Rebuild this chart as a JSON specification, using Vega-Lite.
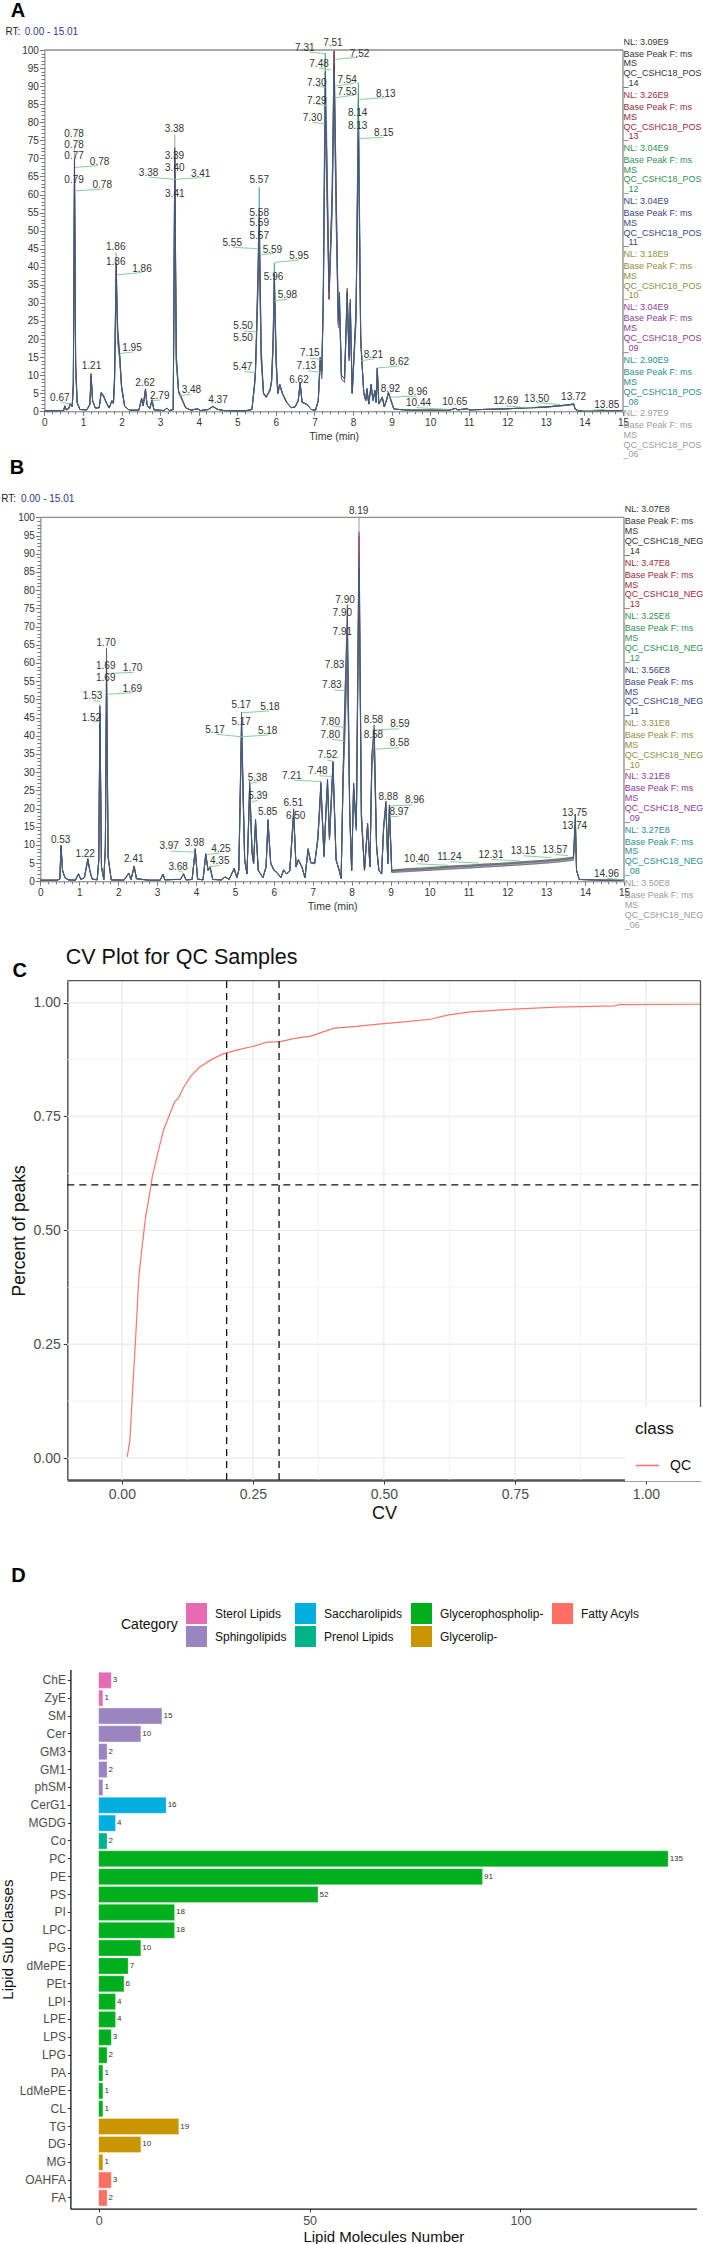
{
"$schema":"https://vega.github.io/schema/vega-lite/v6.json",
"width":703,"height":2244,"padding":0,"autosize":"none","background":"white",
"config":{"font":"Liberation Sans","view":{"stroke":null}},
"datasets":{
"traceA":[
{"t":0,"14":0.1,"13":0.1,"12":0.1,"11":0.1,"10":0.1,"09":0.1,"08":0.1,"06":0.1},
{"t":0.5,"14":0.2,"13":0.2,"12":0.2,"11":0.2,"10":0.2,"09":0.2,"08":0.2,"06":0.2},
{"t":0.53,"14":1.5,"13":1.3,"12":1.4,"11":1.6,"10":1.2,"09":1.5,"08":1.3,"06":1.4},
{"t":0.57,"14":0.4,"13":0.4,"12":0.4,"11":0.4,"10":0.4,"09":0.4,"08":0.4,"06":0.4},
{"t":0.63,"14":0.8,"13":0.7,"12":0.7,"11":0.8,"10":0.7,"09":0.8,"08":0.7,"06":0.8},
{"t":0.67,"14":2.2,"13":2,"12":1.9,"11":2.1,"10":2,"09":2,"08":1.9,"06":2.2},
{"t":0.72,"14":1.3,"13":1.3,"12":1.2,"11":1.3,"10":1.3,"09":1.2,"08":1.2,"06":1.3},
{"t":0.75,"14":8,"13":7,"12":6,"11":8,"10":7,"09":7,"08":6,"06":9},
{"t":0.78,"14":70,"13":67.5,"12":61,"11":69,"10":64,"09":66,"08":61,"06":73.5},
{"t":0.81,"14":14,"13":12,"12":11,"11":13,"10":12,"09":12,"08":11,"06":15},
{"t":0.85,"14":2.5,"13":2.4,"12":2.3,"11":2.5,"10":2.4,"09":2.4,"08":2.3,"06":2.6},
{"t":0.92,"14":0.5,"13":0.5,"12":0.5,"11":0.5,"10":0.5,"09":0.5,"08":0.5,"06":0.5},
{"t":1.1,"14":0.4,"13":0.4,"12":0.4,"11":0.4,"10":0.4,"09":0.4,"08":0.4,"06":0.4},
{"t":1.18,"14":2,"13":2,"12":1.8,"11":2,"10":1.9,"09":1.9,"08":1.8,"06":2},
{"t":1.21,"14":10.5,"13":10,"12":9.5,"11":10,"10":10.2,"09":9.8,"08":9.6,"06":10.4},
{"t":1.25,"14":3,"13":3,"12":2.8,"11":3,"10":2.9,"09":2.9,"08":2.8,"06":3},
{"t":1.32,"14":0.9,"13":0.9,"12":0.9,"11":0.9,"10":0.9,"09":0.9,"08":0.9,"06":0.9},
{"t":1.42,"14":1,"13":1,"12":1,"11":1,"10":1,"09":1,"08":1,"06":1},
{"t":1.47,"14":5.3,"13":5,"12":4.8,"11":5.2,"10":5,"09":4.9,"08":4.7,"06":5.1},
{"t":1.53,"14":4.4,"13":4.3,"12":4.1,"11":4.5,"10":4.3,"09":4.2,"08":4.1,"06":4.4},
{"t":1.6,"14":2.6,"13":2.5,"12":2.4,"11":2.6,"10":2.5,"09":2.5,"08":2.4,"06":2.6},
{"t":1.68,"14":0.9,"13":0.9,"12":0.9,"11":0.9,"10":0.9,"09":0.9,"08":0.9,"06":0.9},
{"t":1.75,"14":3,"13":2.9,"12":2.8,"11":3,"10":2.9,"09":2.9,"08":2.8,"06":3},
{"t":1.79,"14":2.2,"13":2.2,"12":2.1,"11":2.2,"10":2.2,"09":2.2,"08":2.1,"06":2.2},
{"t":1.82,"14":10,"13":9,"12":8,"11":10,"10":9,"09":9,"08":8,"06":11},
{"t":1.86,"14":40.5,"13":39,"12":36,"11":41,"10":38,"09":37,"08":36,"06":44},
{"t":1.9,"14":23,"13":21,"12":19,"11":22,"10":20,"09":20,"08":19,"06":24},
{"t":1.95,"14":16,"13":15.5,"12":14.5,"11":16,"10":15,"09":15,"08":14.5,"06":16.5},
{"t":2,"14":7,"13":6.8,"12":6.4,"11":7,"10":6.6,"09":6.6,"08":6.4,"06":7.2},
{"t":2.08,"14":1.5,"13":1.5,"12":1.4,"11":1.5,"10":1.5,"09":1.4,"08":1.4,"06":1.5},
{"t":2.2,"14":0.3,"13":0.3,"12":0.3,"11":0.3,"10":0.3,"09":0.3,"08":0.3,"06":0.3},
{"t":2.45,"14":0.3,"13":0.3,"12":0.3,"11":0.3,"10":0.3,"09":0.3,"08":0.3,"06":0.3},
{"t":2.52,"14":3.6,"13":3.5,"12":3.3,"11":3.6,"10":3.4,"09":3.4,"08":3.3,"06":3.7},
{"t":2.56,"14":1.5,"13":1.5,"12":1.5,"11":1.5,"10":1.5,"09":1.5,"08":1.5,"06":1.5},
{"t":2.59,"14":3.8,"13":3.7,"12":3.5,"11":3.8,"10":3.6,"09":3.6,"08":3.5,"06":3.9},
{"t":2.62,"14":6.2,"13":6,"12":5.6,"11":6.1,"10":5.8,"09":5.9,"08":5.6,"06":6.3},
{"t":2.66,"14":1.8,"13":1.8,"12":1.7,"11":1.8,"10":1.8,"09":1.8,"08":1.7,"06":1.8},
{"t":2.73,"14":0.7,"13":0.7,"12":0.7,"11":0.7,"10":0.7,"09":0.7,"08":0.7,"06":0.7},
{"t":2.79,"14":3.2,"13":3.1,"12":3,"11":3.2,"10":3.1,"09":3,"08":3,"06":3.2},
{"t":2.84,"14":0.4,"13":0.4,"12":0.4,"11":0.4,"10":0.4,"09":0.4,"08":0.4,"06":0.4},
{"t":3.1,"14":0.2,"13":0.2,"12":0.2,"11":0.2,"10":0.2,"09":0.2,"08":0.2,"06":0.2},
{"t":3.18,"14":0.9,"13":0.9,"12":0.9,"11":0.9,"10":0.9,"09":0.9,"08":0.9,"06":0.9},
{"t":3.24,"14":0.2,"13":0.2,"12":0.2,"11":0.2,"10":0.2,"09":0.2,"08":0.2,"06":0.2},
{"t":3.34,"14":0.5,"13":0.5,"12":0.5,"11":0.5,"10":0.5,"09":0.5,"08":0.5,"06":0.5},
{"t":3.38,"14":73,"13":70,"12":64,"11":72,"10":67,"09":66,"08":60,"06":76.5},
{"t":3.42,"14":15,"13":14,"12":13,"11":15,"10":14,"09":14,"08":13,"06":16},
{"t":3.48,"14":5.6,"13":5.4,"12":5.1,"11":5.6,"10":5.3,"09":5.2,"08":5.1,"06":5.8},
{"t":3.56,"14":3.6,"13":3.5,"12":3.3,"11":3.6,"10":3.4,"09":3.4,"08":3.3,"06":3.7},
{"t":3.66,"14":1,"13":1,"12":1,"11":1,"10":1,"09":1,"08":1,"06":1},
{"t":3.8,"14":0.3,"13":0.3,"12":0.3,"11":0.3,"10":0.3,"09":0.3,"08":0.3,"06":0.3},
{"t":3.97,"14":0.7,"13":0.7,"12":0.7,"11":0.7,"10":0.7,"09":0.7,"08":0.7,"06":0.7},
{"t":4.05,"14":0.2,"13":0.2,"12":0.2,"11":0.2,"10":0.2,"09":0.2,"08":0.2,"06":0.2},
{"t":4.25,"14":0.5,"13":0.5,"12":0.5,"11":0.5,"10":0.5,"09":0.5,"08":0.5,"06":0.5},
{"t":4.37,"14":1.4,"13":1.4,"12":1.3,"11":1.4,"10":1.3,"09":1.3,"08":1.3,"06":1.4},
{"t":4.47,"14":0.6,"13":0.6,"12":0.6,"11":0.6,"10":0.6,"09":0.6,"08":0.6,"06":0.6},
{"t":4.65,"14":0.2,"13":0.2,"12":0.2,"11":0.2,"10":0.2,"09":0.2,"08":0.2,"06":0.2},
{"t":5.2,"14":0.1,"13":0.1,"12":0.1,"11":0.1,"10":0.1,"09":0.1,"08":0.1,"06":0.1},
{"t":5.38,"14":0.5,"13":0.5,"12":0.5,"11":0.5,"10":0.5,"09":0.5,"08":0.5,"06":0.5},
{"t":5.45,"14":8,"13":7.6,"12":7.2,"11":8,"10":7.5,"09":7.4,"08":7.2,"06":8.2},
{"t":5.47,"14":11,"13":10.6,"12":10,"11":11,"10":10.4,"09":10.2,"08":10,"06":11.4},
{"t":5.5,"14":23,"13":21,"12":20,"11":22,"10":21,"09":20,"08":19,"06":22},
{"t":5.57,"14":52,"13":49,"12":46,"11":55,"10":48,"09":44,"08":62,"06":51},
{"t":5.62,"14":16,"13":15,"12":14,"11":17,"10":15,"09":14,"08":18,"06":16},
{"t":5.68,"14":5,"13":5,"12":4.7,"11":5,"10":4.9,"09":4.8,"08":5.2,"06":5},
{"t":5.75,"14":4,"13":4,"12":3.8,"11":4,"10":3.9,"09":3.8,"08":4.1,"06":4},
{"t":5.85,"14":6,"13":5.9,"12":5.6,"11":6,"10":5.8,"09":5.7,"08":6.1,"06":6},
{"t":5.89,"14":8.5,"13":8.4,"12":8,"11":8.5,"10":8.2,"09":8.1,"08":8.7,"06":8.5},
{"t":5.93,"14":20,"13":19,"12":17,"11":20,"10":18,"09":18,"08":21,"06":19},
{"t":5.96,"14":38,"13":36,"12":31,"11":38,"10":34,"09":33,"08":41,"06":36},
{"t":6.01,"14":14,"13":13,"12":12,"11":14,"10":13,"09":13,"08":15,"06":14},
{"t":6.05,"14":5,"13":5,"12":4.8,"11":5,"10":4.9,"09":4.8,"08":5.1,"06":5},
{"t":6.1,"14":7.5,"13":7.4,"12":7,"11":7.5,"10":7.2,"09":7.2,"08":7.6,"06":7.4},
{"t":6.17,"14":5,"13":5,"12":4.8,"11":5,"10":4.9,"09":4.9,"08":5,"06":5},
{"t":6.28,"14":2.5,"13":2.5,"12":2.4,"11":2.5,"10":2.5,"09":2.4,"08":2.5,"06":2.5},
{"t":6.4,"14":1,"13":1,"12":1,"11":1,"10":1,"09":1,"08":1,"06":1},
{"t":6.5,"14":1.2,"13":1.2,"12":1.2,"11":1.2,"10":1.2,"09":1.2,"08":1.2,"06":1.2},
{"t":6.58,"14":3,"13":3,"12":2.9,"11":3,"10":3,"09":2.9,"08":3,"06":3},
{"t":6.63,"14":8,"13":7.8,"12":7.4,"11":8,"10":7.6,"09":7.6,"08":7.8,"06":8.1},
{"t":6.68,"14":2.5,"13":2.5,"12":2.4,"11":2.5,"10":2.5,"09":2.4,"08":2.5,"06":2.5},
{"t":6.8,"14":2,"13":2,"12":1.9,"11":2,"10":2,"09":1.9,"08":2,"06":2},
{"t":6.92,"14":0.5,"13":0.5,"12":0.5,"11":0.5,"10":0.5,"09":0.5,"08":0.5,"06":0.5},
{"t":7.03,"14":0.3,"13":0.3,"12":0.3,"11":0.3,"10":0.3,"09":0.3,"08":0.3,"06":0.3},
{"t":7.1,"14":3,"13":3,"12":2.8,"11":3,"10":2.9,"09":2.8,"08":3,"06":3},
{"t":7.15,"14":15,"13":14,"12":13,"11":15,"10":14,"09":13,"08":15,"06":14},
{"t":7.19,"14":11,"13":10,"12":9,"11":11,"10":10,"09":9,"08":10,"06":10},
{"t":7.23,"14":30,"13":31,"12":34,"11":32,"10":30,"09":28,"08":33,"06":30},
{"t":7.28,"14":84,"13":90,"12":99,"11":94,"10":86,"09":81,"08":92,"06":88},
{"t":7.33,"14":58,"13":66,"12":70,"11":64,"10":60,"09":55,"08":66,"06":60},
{"t":7.38,"14":31,"13":31,"12":34,"11":33,"10":32,"09":31,"08":35,"06":33},
{"t":7.46,"14":60,"13":62,"12":56,"11":60,"10":56,"09":54,"08":58,"06":60},
{"t":7.51,"14":100,"13":100,"12":92,"11":96,"10":90,"09":88,"08":94,"06":99},
{"t":7.57,"14":56,"13":58,"12":50,"11":54,"10":50,"09":48,"08":52,"06":56},
{"t":7.62,"14":25,"13":26,"12":24,"11":25,"10":24,"09":23,"08":24,"06":25},
{"t":7.65,"14":33,"13":30,"12":28,"11":32,"10":30,"09":29,"08":31,"06":30},
{"t":7.7,"14":10,"13":10,"12":9,"11":10,"10":9,"09":9,"08":10,"06":10},
{"t":7.78,"14":9,"13":9,"12":8,"11":9,"10":8,"09":8,"08":9,"06":9},
{"t":7.85,"14":34,"13":33,"12":30,"11":33,"10":31,"09":30,"08":32,"06":34},
{"t":7.9,"14":15,"13":15,"12":14,"11":15,"10":14,"09":14,"08":15,"06":15},
{"t":7.93,"14":31,"13":30,"12":27,"11":30,"10":28,"09":27,"08":29,"06":31},
{"t":7.98,"14":5,"13":5,"12":5,"11":5,"10":5,"09":5,"08":5,"06":5},
{"t":8.08,"14":28,"13":27,"12":25,"11":28,"10":26,"09":25,"08":27,"06":28},
{"t":8.14,"14":80,"13":84,"12":86,"11":76,"10":88,"09":78,"08":91,"06":82},
{"t":8.2,"14":20,"13":21,"12":20,"11":19,"10":21,"09":20,"08":22,"06":20},
{"t":8.23,"14":14,"13":14,"12":14,"11":14,"10":14,"09":14,"08":15,"06":14},
{"t":8.28,"14":5,"13":5,"12":5,"11":5,"10":5,"09":5,"08":5,"06":5},
{"t":8.33,"14":3,"13":3,"12":3,"11":3,"10":3,"09":3,"08":3,"06":3},
{"t":8.36,"14":6.3,"13":6.2,"12":6,"11":6.3,"10":6.1,"09":6,"08":6.2,"06":6.3},
{"t":8.41,"14":2,"13":2,"12":2,"11":2,"10":2,"09":2,"08":2,"06":2},
{"t":8.47,"14":7.5,"13":7.4,"12":7,"11":7.5,"10":7.2,"09":7.1,"08":7.4,"06":7.5},
{"t":8.52,"14":3,"13":3,"12":3,"11":3,"10":3,"09":3,"08":3,"06":3},
{"t":8.57,"14":5.8,"13":5.7,"12":5.5,"11":5.8,"10":5.6,"09":5.5,"08":5.7,"06":5.8},
{"t":8.6,"14":2.5,"13":2.5,"12":2.5,"11":2.5,"10":2.5,"09":2.5,"08":2.5,"06":2.5},
{"t":8.63,"14":12,"13":11.6,"12":11,"11":12,"10":11.4,"09":11.2,"08":11.8,"06":12},
{"t":8.67,"14":2,"13":2,"12":2,"11":2,"10":2,"09":2,"08":2,"06":2},
{"t":8.76,"14":4,"13":3.9,"12":3.7,"11":4,"10":3.8,"09":3.8,"08":3.9,"06":4},
{"t":8.81,"14":1.2,"13":1.2,"12":1.2,"11":1.2,"10":1.2,"09":1.2,"08":1.2,"06":1.2},
{"t":8.87,"14":3.2,"13":3.1,"12":3,"11":3.2,"10":3.1,"09":3,"08":3.1,"06":3.2},
{"t":8.92,"14":5.3,"13":5.2,"12":4.9,"11":5.3,"10":5,"09":5,"08":5.1,"06":5.3},
{"t":8.97,"14":3.6,"13":3.5,"12":3.3,"11":3.6,"10":3.4,"09":3.4,"08":3.5,"06":3.6},
{"t":9.06,"14":0.6,"13":0.6,"12":0.6,"11":0.6,"10":0.6,"09":0.6,"08":0.6,"06":0.6},
{"t":9.5,"14":0.3,"13":0.3,"12":0.3,"11":0.3,"10":0.3,"09":0.3,"08":0.3,"06":0.3},
{"t":10.5,"14":0.3,"13":0.3,"12":0.3,"11":0.3,"10":0.3,"09":0.3,"08":0.3,"06":0.3},
{"t":10.65,"14":0.8,"13":0.8,"12":0.8,"11":0.8,"10":0.8,"09":0.8,"08":0.8,"06":0.8},
{"t":10.72,"14":0.4,"13":0.4,"12":0.4,"11":0.4,"10":0.4,"09":0.4,"08":0.4,"06":0.4},
{"t":10.95,"14":0.7,"13":0.7,"12":0.7,"11":0.7,"10":0.7,"09":0.7,"08":0.7,"06":0.7},
{"t":11.02,"14":0.4,"13":0.4,"12":0.4,"11":0.4,"10":0.4,"09":0.4,"08":0.4,"06":0.4},
{"t":12,"14":0.7,"13":0.7,"12":0.7,"11":0.7,"10":0.7,"09":0.7,"08":0.7,"06":0.7},
{"t":13,"14":1.2,"13":1.2,"12":1.1,"11":1.2,"10":1.2,"09":1.1,"08":1.2,"06":1.2},
{"t":13.6,"14":1.8,"13":1.8,"12":1.7,"11":1.8,"10":1.7,"09":1.7,"08":1.8,"06":1.8},
{"t":13.72,"14":2.1,"13":2,"12":1.9,"11":2.1,"10":2,"09":1.9,"08":2,"06":2.1},
{"t":13.76,"14":0.6,"13":0.6,"12":0.6,"11":0.6,"10":0.6,"09":0.6,"08":0.6,"06":0.6},
{"t":13.85,"14":0.1,"13":0.1,"12":0.1,"11":0.1,"10":0.1,"09":0.1,"08":0.1,"06":0.1},
{"t":14.5,"14":0.2,"13":0.2,"12":0.2,"11":0.2,"10":0.2,"09":0.2,"08":0.2,"06":0.2},
{"t":15,"14":0.2,"13":0.2,"12":0.2,"11":0.2,"10":0.2,"09":0.2,"08":0.2,"06":0.2}
],
"traceB":[
{"t":0,"14":0.3,"13":0.3,"12":0.3,"11":0.3,"10":0.3,"09":0.3,"08":0.3,"06":0.3},
{"t":0.42,"14":0.3,"13":0.3,"12":0.3,"11":0.3,"10":0.3,"09":0.3,"08":0.3,"06":0.3},
{"t":0.5,"14":0.6,"13":0.6,"12":0.6,"11":0.6,"10":0.6,"09":0.6,"08":0.6,"06":0.6},
{"t":0.53,"14":10,"13":9.6,"12":9.2,"11":9.8,"10":9.4,"09":9.5,"08":9,"06":9.7},
{"t":0.57,"14":3,"13":3,"12":2.8,"11":3,"10":2.9,"09":2.9,"08":2.8,"06":3},
{"t":0.63,"14":1,"13":1,"12":1,"11":1,"10":1,"09":1,"08":1,"06":1},
{"t":0.72,"14":0.4,"13":0.4,"12":0.4,"11":0.4,"10":0.4,"09":0.4,"08":0.4,"06":0.4},
{"t":0.9,"14":0.3,"13":0.3,"12":0.3,"11":0.3,"10":0.3,"09":0.3,"08":0.3,"06":0.3},
{"t":0.98,"14":2.1,"13":2,"12":1.9,"11":2.1,"10":2,"09":2,"08":1.9,"06":2},
{"t":1.04,"14":0.5,"13":0.5,"12":0.5,"11":0.5,"10":0.5,"09":0.5,"08":0.5,"06":0.5},
{"t":1.13,"14":1,"13":1,"12":1,"11":1,"10":1,"09":1,"08":1,"06":1},
{"t":1.22,"14":6.2,"13":6,"12":5.7,"11":6.3,"10":5.9,"09":5.8,"08":5.6,"06":6.1},
{"t":1.27,"14":3,"13":3,"12":2.9,"11":3,"10":3,"09":2.9,"08":2.9,"06":3},
{"t":1.33,"14":0.6,"13":0.6,"12":0.6,"11":0.6,"10":0.6,"09":0.6,"08":0.6,"06":0.6},
{"t":1.46,"14":0.4,"13":0.4,"12":0.4,"11":0.4,"10":0.4,"09":0.4,"08":0.4,"06":0.4},
{"t":1.5,"14":6,"13":5.8,"12":5.4,"11":6,"10":5.6,"09":5.5,"08":5.8,"06":5.7},
{"t":1.53,"14":48,"13":46,"12":42,"11":48.5,"10":44,"09":43,"08":46,"06":45},
{"t":1.57,"14":4,"13":4,"12":3.8,"11":4,"10":3.9,"09":3.8,"08":4,"06":3.9},
{"t":1.63,"14":0.5,"13":0.5,"12":0.5,"11":0.5,"10":0.5,"09":0.5,"08":0.5,"06":0.5},
{"t":1.67,"14":10,"13":9.5,"12":9,"11":9.6,"10":9.2,"09":9,"08":9.3,"06":9.1},
{"t":1.7,"14":64,"13":58,"12":52,"11":60,"10":55,"09":51,"08":57,"06":53},
{"t":1.74,"14":7,"13":6.8,"12":6.4,"11":7,"10":6.6,"09":6.4,"08":6.7,"06":6.5},
{"t":1.82,"14":0.4,"13":0.4,"12":0.4,"11":0.4,"10":0.4,"09":0.4,"08":0.4,"06":0.4},
{"t":2.15,"14":0.3,"13":0.3,"12":0.3,"11":0.3,"10":0.3,"09":0.3,"08":0.3,"06":0.3},
{"t":2.27,"14":2.3,"13":2.2,"12":2.1,"11":2.3,"10":2.2,"09":2.1,"08":2.2,"06":2.2},
{"t":2.33,"14":0.5,"13":0.5,"12":0.5,"11":0.5,"10":0.5,"09":0.5,"08":0.5,"06":0.5},
{"t":2.41,"14":4.2,"13":4.1,"12":3.9,"11":4.2,"10":4,"09":3.9,"08":4,"06":4.1},
{"t":2.47,"14":0.7,"13":0.7,"12":0.7,"11":0.7,"10":0.7,"09":0.7,"08":0.7,"06":0.7},
{"t":2.8,"14":0.3,"13":0.3,"12":0.3,"11":0.3,"10":0.3,"09":0.3,"08":0.3,"06":0.3},
{"t":3.08,"14":0.3,"13":0.3,"12":0.3,"11":0.3,"10":0.3,"09":0.3,"08":0.3,"06":0.3},
{"t":3.15,"14":2,"13":2,"12":1.9,"11":2,"10":1.9,"09":1.9,"08":2,"06":2},
{"t":3.2,"14":0.4,"13":0.4,"12":0.4,"11":0.4,"10":0.4,"09":0.4,"08":0.4,"06":0.4},
{"t":3.45,"14":0.5,"13":0.5,"12":0.5,"11":0.5,"10":0.5,"09":0.5,"08":0.5,"06":0.5},
{"t":3.6,"14":0.5,"13":0.5,"12":0.5,"11":0.5,"10":0.5,"09":0.5,"08":0.5,"06":0.5},
{"t":3.68,"14":2.1,"13":2,"12":1.9,"11":2.1,"10":2,"09":2,"08":2,"06":2},
{"t":3.74,"14":0.4,"13":0.4,"12":0.4,"11":0.4,"10":0.4,"09":0.4,"08":0.4,"06":0.4},
{"t":3.9,"14":0.5,"13":0.5,"12":0.5,"11":0.5,"10":0.5,"09":0.5,"08":0.5,"06":0.5},
{"t":3.98,"14":9,"13":8.7,"12":8.3,"11":9,"10":8.5,"09":8.4,"08":8.7,"06":8.8},
{"t":4.04,"14":0.6,"13":0.6,"12":0.6,"11":0.6,"10":0.6,"09":0.6,"08":0.6,"06":0.6},
{"t":4.18,"14":0.4,"13":0.4,"12":0.4,"11":0.4,"10":0.4,"09":0.4,"08":0.4,"06":0.4},
{"t":4.25,"14":7.6,"13":7.4,"12":7,"11":7.6,"10":7.2,"09":7.1,"08":7.4,"06":7.5},
{"t":4.31,"14":3,"13":3,"12":3,"11":3,"10":3,"09":3,"08":3,"06":3},
{"t":4.36,"14":4,"13":3.9,"12":3.7,"11":4,"10":3.8,"09":3.8,"08":3.9,"06":4},
{"t":4.43,"14":0.5,"13":0.5,"12":0.5,"11":0.5,"10":0.5,"09":0.5,"08":0.5,"06":0.5},
{"t":4.65,"14":0.4,"13":0.4,"12":0.4,"11":0.4,"10":0.4,"09":0.4,"08":0.4,"06":0.4},
{"t":4.75,"14":1.2,"13":1.2,"12":1.2,"11":1.2,"10":1.2,"09":1.2,"08":1.2,"06":1.2},
{"t":4.85,"14":0.5,"13":0.5,"12":0.5,"11":0.5,"10":0.5,"09":0.5,"08":0.5,"06":0.5},
{"t":4.98,"14":3.6,"13":3.5,"12":3.3,"11":3.6,"10":3.4,"09":3.4,"08":3.5,"06":3.5},
{"t":5.05,"14":1,"13":1,"12":1,"11":1,"10":1,"09":1,"08":1,"06":1},
{"t":5.1,"14":3.2,"13":3.1,"12":3,"11":3.2,"10":3.1,"09":3,"08":3.1,"06":3.1},
{"t":5.17,"14":44,"13":43,"12":40,"11":46.5,"10":42,"09":41,"08":45,"06":39},
{"t":5.25,"14":6,"13":6,"12":5.6,"11":6.2,"10":5.8,"09":5.7,"08":6,"06":5.5},
{"t":5.31,"14":2,"13":2,"12":2,"11":2,"10":2,"09":2,"08":2,"06":2},
{"t":5.38,"14":27,"13":26,"12":25,"11":27.5,"10":26,"09":25,"08":26,"06":24},
{"t":5.44,"14":8,"13":8,"12":7.6,"11":8.2,"10":7.8,"09":7.7,"08":8,"06":7.5},
{"t":5.48,"14":5,"13":5,"12":4.8,"11":5,"10":4.9,"09":4.8,"08":5,"06":4.8},
{"t":5.53,"14":17,"13":16.5,"12":15.5,"11":17,"10":16,"09":15.7,"08":16.4,"06":15.4},
{"t":5.6,"14":3,"13":3,"12":3,"11":3,"10":3,"09":3,"08":3,"06":3},
{"t":5.72,"14":1,"13":1,"12":1,"11":1,"10":1,"09":1,"08":1,"06":1},
{"t":5.8,"14":4,"13":4,"12":3.8,"11":4,"10":3.9,"09":3.8,"08":4,"06":3.8},
{"t":5.85,"14":17,"13":16.5,"12":15.6,"11":17,"10":16,"09":15.8,"08":16.6,"06":15.5},
{"t":5.92,"14":5,"13":5,"12":4.8,"11":5,"10":4.9,"09":4.8,"08":5,"06":4.8},
{"t":6,"14":3.2,"13":3.2,"12":3,"11":3.2,"10":3.1,"09":3,"08":3.2,"06":3},
{"t":6.1,"14":2.2,"13":2.2,"12":2.1,"11":2.2,"10":2.1,"09":2.1,"08":2.2,"06":2.1},
{"t":6.18,"14":1,"13":1,"12":1,"11":1,"10":1,"09":1,"08":1,"06":1},
{"t":6.25,"14":3.2,"13":3.1,"12":3,"11":3.2,"10":3.1,"09":3,"08":3.1,"06":3},
{"t":6.33,"14":2,"13":2,"12":2,"11":2,"10":2,"09":2,"08":2,"06":2},
{"t":6.41,"14":3,"13":3,"12":2.9,"11":3,"10":3,"09":2.9,"08":3,"06":2.9},
{"t":6.51,"14":19.5,"13":19,"12":18,"11":20,"10":18.5,"09":18,"08":19,"06":17.6},
{"t":6.57,"14":4,"13":4,"12":3.9,"11":4,"10":4,"09":3.9,"08":4,"06":3.9},
{"t":6.63,"14":6,"13":5.9,"12":5.7,"11":6,"10":5.8,"09":5.7,"08":5.9,"06":5.7},
{"t":6.72,"14":4,"13":4,"12":3.9,"11":4,"10":4,"09":3.9,"08":4,"06":3.9},
{"t":6.8,"14":1,"13":1,"12":1,"11":1,"10":1,"09":1,"08":1,"06":1},
{"t":6.88,"14":9,"13":8.8,"12":8.4,"11":9,"10":8.6,"09":8.5,"08":8.8,"06":8.4},
{"t":6.95,"14":5.2,"13":5.1,"12":5,"11":5.2,"10":5,"09":5,"08":5.1,"06":5},
{"t":7.05,"14":5,"13":5,"12":4.8,"11":5,"10":4.9,"09":4.8,"08":5,"06":4.8},
{"t":7.13,"14":12,"13":11.6,"12":11,"11":12,"10":11.4,"09":11.2,"08":11.6,"06":11},
{"t":7.21,"14":27,"13":26.5,"12":25,"11":27.5,"10":26,"09":25,"08":26.4,"06":24.6},
{"t":7.29,"14":7,"13":7,"12":6.7,"11":7.1,"10":6.8,"09":6.7,"08":7,"06":6.6},
{"t":7.34,"14":20,"13":19.6,"12":18.6,"11":20,"10":19,"09":18.8,"08":19.5,"06":18.4},
{"t":7.38,"14":28,"13":27.5,"12":26,"11":28,"10":27,"09":26,"08":27.4,"06":25.8},
{"t":7.43,"14":12,"13":12,"12":11.4,"11":12,"10":11.6,"09":11.4,"08":11.8,"06":11.2},
{"t":7.52,"14":33,"13":32.4,"12":30.6,"11":33,"10":31.4,"09":31,"08":32,"06":30.4},
{"t":7.6,"14":6,"13":6,"12":5.8,"11":6,"10":5.9,"09":5.8,"08":6,"06":5.7},
{"t":7.68,"14":3,"13":3,"12":3,"11":3,"10":3,"09":3,"08":3,"06":3},
{"t":7.73,"14":0.8,"13":0.8,"12":0.8,"11":0.8,"10":0.8,"09":0.8,"08":0.8,"06":0.8},
{"t":7.78,"14":30,"13":29,"12":27,"11":30,"10":28,"09":28,"08":29,"06":27},
{"t":7.83,"14":52,"13":48,"12":40,"11":50,"10":44,"09":42,"08":53,"06":46},
{"t":7.89,"14":76,"13":70,"12":62,"11":73,"10":66,"09":60,"08":68,"06":64},
{"t":7.95,"14":20,"13":19,"12":18,"11":20,"10":19,"09":18,"08":19,"06":18},
{"t":8,"14":3,"13":3,"12":3,"11":3,"10":3,"09":3,"08":3,"06":3},
{"t":8.05,"14":27,"13":26.5,"12":25,"11":27,"10":26,"09":25,"08":26,"06":24.6},
{"t":8.12,"14":15,"13":15,"12":14,"11":15,"10":14.5,"09":14,"08":14.6,"06":14},
{"t":8.19,"14":90,"13":95,"12":88,"11":86,"10":92,"09":96,"08":84,"06":100},
{"t":8.25,"14":18,"13":19,"12":17.6,"11":17,"10":18,"09":19,"08":17,"06":20},
{"t":8.33,"14":3,"13":3,"12":3,"11":3,"10":3,"09":3,"08":3,"06":3},
{"t":8.41,"14":16,"13":15.6,"12":15,"11":16,"10":15.4,"09":15,"08":15.6,"06":14.8},
{"t":8.47,"14":4,"13":4,"12":4,"11":4,"10":4,"09":4,"08":4,"06":4},
{"t":8.52,"14":35,"13":34,"12":32,"11":35,"10":33,"09":32,"08":34,"06":31},
{"t":8.58,"14":43,"13":40,"12":36,"11":42,"10":38,"09":37,"08":41,"06":35},
{"t":8.64,"14":10,"13":10,"12":9,"11":10,"10":9,"09":9,"08":10,"06":9},
{"t":8.7,"14":3,"13":3,"12":3,"11":3,"10":3,"09":3,"08":3,"06":3},
{"t":8.77,"14":2,"13":2,"12":2,"11":2,"10":2,"09":2,"08":2,"06":2},
{"t":8.82,"14":15,"13":14.6,"12":14,"11":15,"10":14.4,"09":14,"08":14.6,"06":13.8},
{"t":8.88,"14":22,"13":21.4,"12":20,"11":22,"10":21,"09":20.4,"08":21,"06":19.8},
{"t":8.93,"14":5,"13":5,"12":4.8,"11":5,"10":4.9,"09":4.8,"08":5,"06":4.8},
{"t":8.97,"14":21,"13":20.4,"12":19,"11":21,"10":20,"09":19.4,"08":20,"06":18.6},
{"t":9.03,"14":3,"13":2.7,"12":2.5,"11":2.9,"10":2.6,"09":2.4,"08":2.8,"06":3.2},
{"t":9.4,"14":3.4,"13":3,"12":2.7,"11":3.2,"10":2.9,"09":2.6,"08":3.1,"06":3.5},
{"t":9.8,"14":3.6,"13":3.2,"12":2.9,"11":3.4,"10":3.1,"09":2.9,"08":3.3,"06":3.8},
{"t":10.2,"14":3.9,"13":3.5,"12":3.2,"11":3.7,"10":3.3,"09":3.1,"08":3.6,"06":4},
{"t":10.6,"14":4.2,"13":3.8,"12":3.4,"11":4,"10":3.6,"09":3.4,"08":3.9,"06":4.3},
{"t":11,"14":4.4,"13":4,"12":3.7,"11":4.2,"10":3.8,"09":3.6,"08":4.1,"06":4.5},
{"t":11.4,"14":4.7,"13":4.3,"12":3.9,"11":4.5,"10":4.1,"09":3.9,"08":4.4,"06":4.8},
{"t":11.8,"14":4.9,"13":4.5,"12":4.2,"11":4.7,"10":4.3,"09":4.1,"08":4.6,"06":5},
{"t":12.2,"14":5.2,"13":4.8,"12":4.4,"11":5,"10":4.6,"09":4.4,"08":4.9,"06":5.3},
{"t":12.6,"14":5.5,"13":5.1,"12":4.7,"11":5.3,"10":4.9,"09":4.7,"08":5.2,"06":5.6},
{"t":13,"14":5.8,"13":5.4,"12":5,"11":5.6,"10":5.2,"09":5,"08":5.5,"06":5.9},
{"t":13.4,"14":6.2,"13":5.8,"12":5.4,"11":6,"10":5.6,"09":5.4,"08":5.9,"06":6.3},
{"t":13.7,"14":6.6,"13":6.2,"12":5.8,"11":6.4,"10":6,"09":5.8,"08":6.3,"06":6.7},
{"t":13.75,"14":18.5,"13":17,"12":16,"11":18,"10":16,"09":15,"08":17,"06":15.5},
{"t":13.78,"14":3,"13":3,"12":3,"11":3,"10":3,"09":3,"08":3,"06":3},
{"t":13.85,"14":0.5,"13":0.5,"12":0.5,"11":0.5,"10":0.5,"09":0.5,"08":0.5,"06":0.5},
{"t":14.5,"14":0.3,"13":0.3,"12":0.3,"11":0.3,"10":0.3,"09":0.3,"08":0.3,"06":0.3},
{"t":15,"14":0.3,"13":0.3,"12":0.3,"11":0.3,"10":0.3,"09":0.3,"08":0.3,"06":0.3}
],
"labelsA":[
{"t":6.75,"v":100.6,"label":"7.31"},{"t":7.48,"v":101.8,"label":"7.51"},{"t":8.17,"v":99,"label":"7.52"},{"t":7.12,"v":96,"label":"7.48"},{"t":7.06,"v":91,"label":"7.30"},{"t":7.85,"v":91.6,"label":"7.54"},{"t":7.85,"v":88.4,"label":"7.53"},{"t":8.85,"v":87.9,"label":"8.13"},{"t":7.06,"v":86,"label":"7.29"},{"t":8.12,"v":82.5,"label":"8.14"},{"t":6.95,"v":81.2,"label":"7.30"},{"t":8.12,"v":79,"label":"8.13"},{"t":8.8,"v":76.9,"label":"8.15"},
{"t":0.77,"v":76.8,"label":"0.78"},{"t":3.37,"v":78,"label":"3.38"},{"t":0.77,"v":73.6,"label":"0.78"},{"t":3.37,"v":70.7,"label":"3.39"},{"t":0.77,"v":70.6,"label":"0.77"},{"t":1.43,"v":69,"label":"0.78"},{"t":3.38,"v":67.4,"label":"3.40"},{"t":2.7,"v":66,"label":"3.38"},{"t":4.05,"v":65.6,"label":"3.41"},{"t":0.77,"v":63.9,"label":"0.79"},{"t":1.5,"v":62.5,"label":"0.78"},{"t":3.38,"v":60.1,"label":"3.41"},
{"t":5.57,"v":63.9,"label":"5.57"},{"t":5.57,"v":55,"label":"5.58"},{"t":5.57,"v":52,"label":"5.59"},{"t":5.57,"v":48.4,"label":"5.57"},{"t":4.87,"v":46.5,"label":"5.55"},{"t":5.91,"v":44.7,"label":"5.59"},{"t":6.6,"v":42.9,"label":"5.95"},{"t":1.85,"v":45.5,"label":"1.86"},{"t":1.85,"v":41.3,"label":"1.86"},{"t":2.53,"v":39.4,"label":"1.86"},{"t":5.94,"v":37.3,"label":"5.96"},{"t":6.3,"v":32.3,"label":"5.98"},{"t":5.15,"v":23.6,"label":"5.50"},{"t":5.15,"v":20.4,"label":"5.50"},
{"t":5.14,"v":12.3,"label":"5.47"},{"t":2.27,"v":17.5,"label":"1.95"},{"t":1.22,"v":12.4,"label":"1.21"},{"t":6.88,"v":16,"label":"7.15"},{"t":6.79,"v":12.5,"label":"7.13"},{"t":8.53,"v":15.7,"label":"8.21"},{"t":9.2,"v":13.7,"label":"8.62"},{"t":6.6,"v":8.7,"label":"6.62"},{"t":2.61,"v":7.8,"label":"2.62"},{"t":2.99,"v":4.3,"label":"2.79"},{"t":3.81,"v":5.9,"label":"3.48"},{"t":0.4,"v":3.8,"label":"0.67"},{"t":4.5,"v":3,"label":"4.37"},{"t":8.97,"v":6.1,"label":"8.92"},{"t":9.68,"v":5.4,"label":"8.96"},{"t":9.7,"v":2.2,"label":"10.44"},{"t":10.64,"v":2.7,"label":"10.65"},{"t":11.96,"v":2.8,"label":"12.69"},{"t":12.76,"v":3.5,"label":"13.50"},{"t":13.72,"v":3.9,"label":"13.72"},{"t":14.58,"v":1.8,"label":"13.85"}
],
"leadersA":[
{"t":6.87,"v":99.4,"t2":7.31,"v2":99},{"t":7.52,"v":97.4,"t2":8.14,"v2":98},{"t":7.12,"v":95,"t2":7.42,"v2":94.5},{"t":7.08,"v":90,"t2":7.27,"v2":89.7},{"t":7.54,"v":90,"t2":8.03,"v2":90.8},{"t":7.54,"v":86.8,"t2":8.03,"v2":87.5},{"t":8.14,"v":86.3,"t2":8.84,"v2":86.8},{"t":8.15,"v":75.5,"t2":8.78,"v2":75.8},{"t":7.08,"v":85,"t2":7.33,"v2":84.6},{"t":6.95,"v":80,"t2":7.27,"v2":79.6},
{"t":0.8,"v":67.5,"t2":1.38,"v2":68},{"t":0.8,"v":61,"t2":1.52,"v2":61.5},{"t":2.72,"v":64.8,"t2":3.38,"v2":64.2},{"t":3.38,"v":64.2,"t2":4.08,"v2":64.7},{"t":1.89,"v":37.8,"t2":2.53,"v2":38.4},{"t":4.89,"v":45.4,"t2":5.53,"v2":45},{"t":5.61,"v":43.3,"t2":5.94,"v2":43.7},{"t":5.96,"v":41.2,"t2":6.61,"v2":41.9},{"t":5.96,"v":30.6,"t2":6.29,"v2":31},{"t":5.18,"v":22.2,"t2":5.51,"v2":22},{"t":5.18,"v":11,"t2":5.47,"v2":10.7},{"t":1.96,"v":16,"t2":2.28,"v2":16.4},{"t":6.87,"v":14.7,"t2":7.17,"v2":14.4},{"t":6.84,"v":11.2,"t2":7.17,"v2":10.8},{"t":8.21,"v":14,"t2":8.55,"v2":14.5},{"t":8.63,"v":12,"t2":9.19,"v2":12.5},{"t":2.8,"v":3,"t2":3,"v2":3.1},{"t":3.5,"v":4.3,"t2":3.79,"v2":4.7},{"t":0.42,"v":2.6,"t2":0.67,"v2":2},{"t":8.96,"v":3.9,"t2":9.65,"v2":4.2},{"t":9.65,"v":1,"t2":10.47,"v2":0.55},{"t":11.96,"v":1.5,"t2":12.73,"v2":0.8},{"t":12.76,"v":2.4,"t2":13.37,"v2":1.9},{"t":13.95,"v":0.1,"t2":14.53,"v2":0.55}
],
"sideA":[
{"t":15.01,"v":102.3,"text":"NL: 3.09E9","sample":"14"},{"t":15.01,"v":99,"text":"Base Peak F: ms\nMS\nQC_CSHC18_POS\n_14","sample":"14"},
{"t":15.01,"v":87.5,"text":"NL: 3.26E9","sample":"13"},{"t":15.01,"v":84.2,"text":"Base Peak F: ms\nMS\nQC_CSHC18_POS\n_13","sample":"13"},
{"t":15.01,"v":72.9,"text":"NL: 3.04E9","sample":"12"},{"t":15.01,"v":69.6,"text":"Base Peak F: ms\nMS\nQC_CSHC18_POS\n_12","sample":"12"},
{"t":15.01,"v":58.2,"text":"NL: 3.04E9","sample":"11"},{"t":15.01,"v":54.9,"text":"Base Peak F: ms\nMS\nQC_CSHC18_POS\n_11","sample":"11"},
{"t":15.01,"v":43.5,"text":"NL: 3.18E9","sample":"10"},{"t":15.01,"v":40.2,"text":"Base Peak F: ms\nMS\nQC_CSHC18_POS\n_10","sample":"10"},
{"t":15.01,"v":29,"text":"NL: 3.04E9","sample":"09"},{"t":15.01,"v":25.7,"text":"Base Peak F: ms\nMS\nQC_CSHC18_POS\n_09","sample":"09"},
{"t":15.01,"v":14.1,"text":"NL: 2.90E9","sample":"08"},{"t":15.01,"v":10.8,"text":"Base Peak F: ms\nMS\nQC_CSHC18_POS\n_08","sample":"08"},
{"t":15.01,"v":-0.5,"text":"NL: 2.97E9","sample":"06"},{"t":15.01,"v":-3.8,"text":"Base Peak F: ms\nMS\nQC_CSHC18_POS\n_06","sample":"06"}
],
"frameA":[{"t":0,"v":100,"t2":15,"v2":100},{"t":15,"v":100,"t2":15,"v2":0}],
"labelsB":[
{"t":8.18,"v":101.7,"label":"8.19"},{"t":7.83,"v":77.3,"label":"7.90"},{"t":7.76,"v":73.6,"label":"7.90"},{"t":7.76,"v":68.6,"label":"7.91"},{"t":1.69,"v":65.6,"label":"1.70"},{"t":1.68,"v":59.2,"label":"1.69"},{"t":2.37,"v":58.5,"label":"1.70"},{"t":7.56,"v":59.3,"label":"7.83"},{"t":1.68,"v":55.8,"label":"1.69"},{"t":7.49,"v":53.8,"label":"7.83"},{"t":2.36,"v":52.9,"label":"1.69"},{"t":1.34,"v":50.8,"label":"1.53"},{"t":1.31,"v":45,"label":"1.52"},{"t":5.16,"v":48.3,"label":"5.17"},{"t":5.9,"v":47.9,"label":"5.18"},{"t":5.16,"v":43.7,"label":"5.17"},{"t":4.49,"v":41.5,"label":"5.17"},{"t":5.84,"v":41.3,"label":"5.18"},{"t":7.45,"v":43.9,"label":"7.80"},{"t":7.45,"v":40.2,"label":"7.80"},{"t":8.56,"v":44.2,"label":"8.58"},{"t":9.24,"v":43.2,"label":"8.59"},{"t":8.56,"v":40.2,"label":"8.58"},{"t":9.23,"v":37.9,"label":"8.58"},{"t":7.38,"v":34.6,"label":"7.52"},{"t":6.46,"v":28.8,"label":"7.21"},{"t":7.13,"v":30.3,"label":"7.48"},{"t":5.58,"v":28.5,"label":"5.38"},{"t":5.59,"v":23.3,"label":"5.39"},{"t":6.5,"v":21.6,"label":"6.51"},{"t":6.56,"v":17.9,"label":"6.50"},{"t":5.84,"v":19,"label":"5.85"},{"t":8.94,"v":23.1,"label":"8.88"},{"t":9.62,"v":22.3,"label":"8.96"},{"t":9.22,"v":19,"label":"8.97"},{"t":13.73,"v":18.7,"label":"13.75"},{"t":13.73,"v":15.2,"label":"13.74"},{"t":0.52,"v":11.4,"label":"0.53"},{"t":1.15,"v":7.6,"label":"1.22"},{"t":2.4,"v":6,"label":"2.41"},{"t":3.31,"v":9.6,"label":"3.97"},{"t":3.96,"v":10.4,"label":"3.98"},{"t":3.54,"v":4,"label":"3.68"},{"t":4.64,"v":9,"label":"4.25"},{"t":4.61,"v":5.6,"label":"4.35"},{"t":9.67,"v":6,"label":"10.40"},{"t":10.51,"v":6.6,"label":"11.24"},{"t":11.58,"v":7.3,"label":"12.31"},{"t":12.41,"v":8.2,"label":"13.15"},{"t":13.23,"v":8.6,"label":"13.57"},{"t":14.55,"v":2,"label":"14.96"}
],
"leadersB":[
{"t":1.73,"v":57.1,"t2":2.4,"v2":57.4},{"t":1.73,"v":51.4,"t2":2.36,"v2":51.8},{"t":1.36,"v":49.6,"t2":1.54,"v2":49.4},{"t":1.34,"v":44,"t2":1.54,"v2":43.7},{"t":5.18,"v":46.3,"t2":5.88,"v2":46.8},{"t":4.52,"v":40.4,"t2":5.18,"v2":39.7},{"t":5.18,"v":39.7,"t2":5.85,"v2":40.2},{"t":7.55,"v":52.6,"t2":7.83,"v2":52.3},{"t":7.49,"v":42.7,"t2":7.81,"v2":42.3},{"t":7.49,"v":39,"t2":7.81,"v2":38.6},{"t":8.58,"v":41.6,"t2":9.22,"v2":41.9},{"t":8.62,"v":36.3,"t2":9.22,"v2":36.7},{"t":7.37,"v":33.3,"t2":7.52,"v2":33},{"t":6.51,"v":27.8,"t2":7.2,"v2":27.4},{"t":7.17,"v":29,"t2":7.49,"v2":28.8},{"t":5.39,"v":26.9,"t2":5.59,"v2":27.3},{"t":5.39,"v":21.8,"t2":5.59,"v2":22.2},{"t":8.99,"v":20.7,"t2":9.56,"v2":21},{"t":8.99,"v":17.7,"t2":9.22,"v2":17.9},{"t":4.26,"v":7.3,"t2":4.61,"v2":7.8},{"t":4.33,"v":3.9,"t2":4.61,"v2":4.4},{"t":3.34,"v":8.3,"t2":3.96,"v2":8},{"t":3.55,"v":2.8,"t2":3.66,"v2":2.5},{"t":9.68,"v":4.8,"t2":10.48,"v2":4.4},{"t":10.54,"v":5.4,"t2":11.27,"v2":5},{"t":11.58,"v":6,"t2":12.33,"v2":5.6},{"t":12.42,"v":7,"t2":13.13,"v2":6.5},{"t":13.25,"v":7.4,"t2":13.57,"v2":7},{"t":14.57,"v":0.8,"t2":14.98,"v2":0.4}
],
"sideB":[
{"t":15.02,"v":102.2,"text":"NL: 3.07E8","sample":"14"},{"t":15.02,"v":98.9,"text":"Base Peak F: ms\nMS\nQC_CSHC18_NEG\n_14","sample":"14"},
{"t":15.02,"v":87.5,"text":"NL: 3.47E8","sample":"13"},{"t":15.02,"v":84.2,"text":"Base Peak F: ms\nMS\nQC_CSHC18_NEG\n_13","sample":"13"},
{"t":15.02,"v":72.8,"text":"NL: 3.25E8","sample":"12"},{"t":15.02,"v":69.5,"text":"Base Peak F: ms\nMS\nQC_CSHC18_NEG\n_12","sample":"12"},
{"t":15.02,"v":58.1,"text":"NL: 3.56E8","sample":"11"},{"t":15.02,"v":54.8,"text":"Base Peak F: ms\nMS\nQC_CSHC18_NEG\n_11","sample":"11"},
{"t":15.02,"v":43.4,"text":"NL: 3.31E8","sample":"10"},{"t":15.02,"v":40.1,"text":"Base Peak F: ms\nMS\nQC_CSHC18_NEG\n_10","sample":"10"},
{"t":15.02,"v":28.8,"text":"NL: 3.21E8","sample":"09"},{"t":15.02,"v":25.5,"text":"Base Peak F: ms\nMS\nQC_CSHC18_NEG\n_09","sample":"09"},
{"t":15.02,"v":14.2,"text":"NL: 3.27E8","sample":"08"},{"t":15.02,"v":10.9,"text":"Base Peak F: ms\nMS\nQC_CSHC18_NEG\n_08","sample":"08"},
{"t":15.02,"v":-0.6,"text":"NL: 3.50E8","sample":"06"},{"t":15.02,"v":-3.9,"text":"Base Peak F: ms\nMS\nQC_CSHC18_NEG\n_06","sample":"06"}
],
"frameB":[{"t":0,"v":100,"t2":15,"v2":100},{"t":15,"v":100,"t2":15,"v2":0}],
"cvCurve":[
{"cv":0.0103,"pct":0.0029,"class":"QC"},{"cv":0.0154,"pct":0.0395,"class":"QC"},{"cv":0.0214,"pct":0.1641,"class":"QC"},{"cv":0.0265,"pct":0.2664,"class":"QC"},{"cv":0.0325,"pct":0.3982,"class":"QC"},{"cv":0.0394,"pct":0.4715,"class":"QC"},{"cv":0.0454,"pct":0.53,"class":"QC"},{"cv":0.0522,"pct":0.5739,"class":"QC"},{"cv":0.0582,"pct":0.6178,"class":"QC"},{"cv":0.0685,"pct":0.6692,"class":"QC"},{"cv":0.0796,"pct":0.7204,"class":"QC"},{"cv":0.0908,"pct":0.7533,"class":"QC"},{"cv":0.101,"pct":0.7825,"class":"QC"},{"cv":0.108,"pct":0.79,"class":"QC"},{"cv":0.118,"pct":0.8142,"class":"QC"},{"cv":0.131,"pct":0.8375,"class":"QC"},{"cv":0.148,"pct":0.8581,"class":"QC"},{"cv":0.17,"pct":0.8742,"class":"QC"},{"cv":0.193,"pct":0.8873,"class":"QC"},{"cv":0.221,"pct":0.8961,"class":"QC"},{"cv":0.251,"pct":0.9042,"class":"QC"},{"cv":0.277,"pct":0.913,"class":"QC"},{"cv":0.302,"pct":0.9143,"class":"QC"},{"cv":0.328,"pct":0.9209,"class":"QC"},{"cv":0.362,"pct":0.9268,"class":"QC"},{"cv":0.384,"pct":0.9356,"class":"QC"},{"cv":0.405,"pct":0.9437,"class":"QC"},{"cv":0.443,"pct":0.9473,"class":"QC"},{"cv":0.495,"pct":0.9532,"class":"QC"},{"cv":0.538,"pct":0.9576,"class":"QC"},{"cv":0.589,"pct":0.9634,"class":"QC"},{"cv":0.623,"pct":0.973,"class":"QC"},{"cv":0.666,"pct":0.9795,"class":"QC"},{"cv":0.747,"pct":0.9855,"class":"QC"},{"cv":0.829,"pct":0.99,"class":"QC"},{"cv":0.94,"pct":0.9927,"class":"QC"},{"cv":0.949,"pct":0.9956,"class":"QC"},{"cv":1.104,"pct":0.9963,"class":"QC"}
],
"gridMajor":[
{"cv":0,"pct":-0.048,"cv2":0,"pct2":1.048},{"cv":0.25,"pct":-0.048,"cv2":0.25,"pct2":1.048},{"cv":0.5,"pct":-0.048,"cv2":0.5,"pct2":1.048},{"cv":0.75,"pct":-0.048,"cv2":0.75,"pct2":1.048},{"cv":1,"pct":-0.048,"cv2":1,"pct2":1.048},
{"cv":-0.104,"pct":0,"cv2":1.104,"pct2":0},{"cv":-0.104,"pct":0.25,"cv2":1.104,"pct2":0.25},{"cv":-0.104,"pct":0.5,"cv2":1.104,"pct2":0.5},{"cv":-0.104,"pct":0.75,"cv2":1.104,"pct2":0.75},{"cv":-0.104,"pct":1,"cv2":1.104,"pct2":1}
],
"gridMinor":[
{"cv":0.125,"pct":-0.048,"cv2":0.125,"pct2":1.048},{"cv":0.375,"pct":-0.048,"cv2":0.375,"pct2":1.048},{"cv":0.625,"pct":-0.048,"cv2":0.625,"pct2":1.048},{"cv":0.875,"pct":-0.048,"cv2":0.875,"pct2":1.048},
{"cv":-0.104,"pct":0.125,"cv2":1.104,"pct2":0.125},{"cv":-0.104,"pct":0.375,"cv2":1.104,"pct2":0.375},{"cv":-0.104,"pct":0.625,"cv2":1.104,"pct2":0.625},{"cv":-0.104,"pct":0.875,"cv2":1.104,"pct2":0.875}
],
"thresholds":[{"cv":0.2,"pct":-0.048,"cv2":0.2,"pct2":1.048},{"cv":0.3,"pct":-0.048,"cv2":0.3,"pct2":1.048},{"cv":-0.104,"pct":0.6,"cv2":1.104,"pct2":0.6}],
"frameC":[{"cv":-0.104,"pct":1.048,"cv2":1.104,"pct2":1.048},{"cv":1.104,"pct":-0.048,"cv2":1.104,"pct2":1.048}],
"legendPatch":[{"cv":0.96,"pct":0.112,"cv2":1.107,"pct2":-0.051}],
"headingC":[{"cv":-0.107,"pct":1.098,"text":"CV Plot for QC Samples"}],
"lettersC":[{"cv":-0.195,"pct":1.07,"text":"C"},{"cv":-0.197,"pct":-0.259,"text":"D"}],
"lipids":[
{"name":"ChE","n":3,"category":"Sterol Lipids"},{"name":"ZyE","n":1,"category":"Sterol Lipids"},{"name":"SM","n":15,"category":"Sphingolipids"},{"name":"Cer","n":10,"category":"Sphingolipids"},{"name":"GM3","n":2,"category":"Sphingolipids"},{"name":"GM1","n":2,"category":"Sphingolipids"},{"name":"phSM","n":1,"category":"Sphingolipids"},{"name":"CerG1","n":16,"category":"Saccharolipids"},{"name":"MGDG","n":4,"category":"Saccharolipids"},{"name":"Co","n":2,"category":"Prenol Lipids"},{"name":"PC","n":135,"category":"Glycerophospholip-"},{"name":"PE","n":91,"category":"Glycerophospholip-"},{"name":"PS","n":52,"category":"Glycerophospholip-"},{"name":"PI","n":18,"category":"Glycerophospholip-"},{"name":"LPC","n":18,"category":"Glycerophospholip-"},{"name":"PG","n":10,"category":"Glycerophospholip-"},{"name":"dMePE","n":7,"category":"Glycerophospholip-"},{"name":"PEt","n":6,"category":"Glycerophospholip-"},{"name":"LPI","n":4,"category":"Glycerophospholip-"},{"name":"LPE","n":4,"category":"Glycerophospholip-"},{"name":"LPS","n":3,"category":"Glycerophospholip-"},{"name":"LPG","n":2,"category":"Glycerophospholip-"},{"name":"PA","n":1,"category":"Glycerophospholip-"},{"name":"LdMePE","n":1,"category":"Glycerophospholip-"},{"name":"CL","n":1,"category":"Glycerophospholip-"},{"name":"TG","n":19,"category":"Glycerolip-"},{"name":"DG","n":10,"category":"Glycerolip-"},{"name":"MG","n":1,"category":"Glycerolip-"},{"name":"OAHFA","n":3,"category":"Fatty Acyls"},{"name":"FA","n":2,"category":"Fatty Acyls"}
]
},
"layer":[
{
"encoding":{
"x":{"field":"t","type":"quantitative","title":"Time (min)","scale":{"domain":[0,15],"range":[44.4,623],"nice":false,"zero":false},
"axis":{"orient":"bottom","offset":-1832.7,"grid":false,"domainColor":"#777","tickColor":"#777","labelColor":"#333","titleColor":"#333","labelFontSize":10,"titleFontSize":10.5,"titleFontWeight":"normal","titlePadding":4,"labelPadding":2,"labelFlush":false,"values":[0,0.2,0.4,0.6,0.8,1,1.2,1.4,1.6,1.8,2,2.2,2.4,2.6,2.8,3,3.2,3.4,3.6,3.8,4,4.2,4.4,4.6,4.8,5,5.2,5.4,5.6,5.8,6,6.2,6.4,6.6,6.8,7,7.2,7.4,7.6,7.8,8,8.2,8.4,8.6,8.8,9,9.2,9.4,9.6,9.8,10,10.2,10.4,10.6,10.8,11,11.2,11.4,11.6,11.8,12,12.2,12.4,12.6,12.8,13,13.2,13.4,13.6,13.8,14,14.2,14.4,14.6,14.8,15],"labelExpr":"datum.value % 1 === 0 ? '' + datum.value : ''","tickSize":{"condition":{"test":"datum.value % 1 === 0","value":4},"value":2.5}}},
"y":{"field":"v","type":"quantitative","title":null,"scale":{"domain":[0,100],"range":[411.3,50],"nice":false,"zero":false},
"axis":{"orient":"left","offset":-44.4,"grid":false,"domainColor":"#777","tickColor":"#777","labelColor":"#333","labelFontSize":10,"labelPadding":1,"labelFlush":false,"values":[0,1,2,3,4,5,6,7,8,9,10,11,12,13,14,15,16,17,18,19,20,21,22,23,24,25,26,27,28,29,30,31,32,33,34,35,36,37,38,39,40,41,42,43,44,45,46,47,48,49,50,51,52,53,54,55,56,57,58,59,60,61,62,63,64,65,66,67,68,69,70,71,72,73,74,75,76,77,78,79,80,81,82,83,84,85,86,87,88,89,90,91,92,93,94,95,96,97,98,99,100],"labelExpr":"datum.value % 5 === 0 ? datum.label : ''","tickSize":{"condition":{"test":"datum.value % 5 === 0","value":5},"value":3.5}}}
},
"layer":[
{"data":{"name":"traceA"},"transform":[{"fold":["06","14","13","10","12","09","08","11"],"as":["sample","v"]}],"mark":{"type":"line","strokeWidth":0.75,"opacity":0.8},
"encoding":{"color":{"field":"sample","type":"nominal","legend":null,"scale":{"domain":["14","13","12","11","10","09","08","06"],"range":["#333333","#9c2a3c","#2f9155","#39427f","#8f9040","#91399a","#2b9090","#9c9c9c"]}}}},
{"data":{"name":"frameA"},"mark":{"type":"rule","stroke":"#8c8c8c","strokeWidth":1.3},"encoding":{"x2":{"field":"t2"},"y2":{"field":"v2"}}},
{"data":{"name":"leadersA"},"mark":{"type":"rule","stroke":"#79c98b","strokeWidth":0.9},"encoding":{"x2":{"field":"t2"},"y2":{"field":"v2"}}},
{"data":{"name":"labelsA"},"mark":{"type":"text","fontSize":10,"fill":"#333","baseline":"middle"},"encoding":{"text":{"field":"label"}}},
{"data":{"name":"sideA"},"mark":{"type":"text","fontSize":9,"align":"left","baseline":"middle","lineBreak":"\n","lineHeight":9.8},
"encoding":{"text":{"field":"text"},"color":{"field":"sample","type":"nominal","legend":null,"scale":{"domain":["14","13","12","11","10","09","08","06"],"range":["#333333","#9c2a3c","#2f9155","#39427f","#8f9040","#91399a","#2b9090","#9c9c9c"]}}}},
{"data":{"values":[{"t":-1.01,"v":105,"text":"RT:"}]},"mark":{"type":"text","fontSize":10,"fill":"#222","align":"left","baseline":"middle"},"encoding":{"text":{"field":"text"}}},
{"data":{"values":[{"t":-0.51,"v":105,"text":"0.00 - 15.01"}]},"mark":{"type":"text","fontSize":10,"fill":"#2b3a8c","align":"left","baseline":"middle"},"encoding":{"text":{"field":"text"}}},
{"data":{"values":[{"t":-0.684,"v":110.8,"text":"A"}]},"mark":{"type":"text","fontSize":20,"fontWeight":"bold","fill":"#000","baseline":"middle"},"encoding":{"text":{"field":"text"}}}
]
},
{
"encoding":{
"x":{"field":"t","type":"quantitative","title":"Time (min)","scale":{"domain":[0,15],"range":[40.4,624],"nice":false,"zero":false},
"axis":{"orient":"bottom","offset":-1362.7,"grid":false,"domainColor":"#777","tickColor":"#777","labelColor":"#333","titleColor":"#333","labelFontSize":10,"titleFontSize":10.5,"titleFontWeight":"normal","titlePadding":4,"labelPadding":2,"labelFlush":false,"values":[0,0.2,0.4,0.6,0.8,1,1.2,1.4,1.6,1.8,2,2.2,2.4,2.6,2.8,3,3.2,3.4,3.6,3.8,4,4.2,4.4,4.6,4.8,5,5.2,5.4,5.6,5.8,6,6.2,6.4,6.6,6.8,7,7.2,7.4,7.6,7.8,8,8.2,8.4,8.6,8.8,9,9.2,9.4,9.6,9.8,10,10.2,10.4,10.6,10.8,11,11.2,11.4,11.6,11.8,12,12.2,12.4,12.6,12.8,13,13.2,13.4,13.6,13.8,14,14.2,14.4,14.6,14.8,15],"labelExpr":"datum.value % 1 === 0 ? '' + datum.value : ''","tickSize":{"condition":{"test":"datum.value % 1 === 0","value":4},"value":2.5}}},
"y":{"field":"v","type":"quantitative","title":null,"scale":{"domain":[0,100],"range":[881.3,517.3],"nice":false,"zero":false},
"axis":{"orient":"left","offset":-40.4,"grid":false,"domainColor":"#777","tickColor":"#777","labelColor":"#333","labelFontSize":10,"labelPadding":1,"labelFlush":false,"values":[0,1,2,3,4,5,6,7,8,9,10,11,12,13,14,15,16,17,18,19,20,21,22,23,24,25,26,27,28,29,30,31,32,33,34,35,36,37,38,39,40,41,42,43,44,45,46,47,48,49,50,51,52,53,54,55,56,57,58,59,60,61,62,63,64,65,66,67,68,69,70,71,72,73,74,75,76,77,78,79,80,81,82,83,84,85,86,87,88,89,90,91,92,93,94,95,96,97,98,99,100],"labelExpr":"datum.value % 5 === 0 ? datum.label : ''","tickSize":{"condition":{"test":"datum.value % 5 === 0","value":5},"value":3.5}}}
},
"layer":[
{"data":{"name":"traceB"},"transform":[{"fold":["06","14","13","10","12","09","08","11"],"as":["sample","v"]}],"mark":{"type":"line","strokeWidth":0.75,"opacity":0.8},
"encoding":{"color":{"field":"sample","type":"nominal","legend":null,"scale":{"domain":["14","13","12","11","10","09","08","06"],"range":["#333333","#9c2a3c","#2f9155","#39427f","#8f9040","#91399a","#2b9090","#9c9c9c"]}}}},
{"data":{"name":"frameB"},"mark":{"type":"rule","stroke":"#8c8c8c","strokeWidth":1.3},"encoding":{"x2":{"field":"t2"},"y2":{"field":"v2"}}},
{"data":{"name":"leadersB"},"mark":{"type":"rule","stroke":"#79c98b","strokeWidth":0.9},"encoding":{"x2":{"field":"t2"},"y2":{"field":"v2"}}},
{"data":{"name":"labelsB"},"mark":{"type":"text","fontSize":10,"fill":"#333","baseline":"middle"},"encoding":{"text":{"field":"label"}}},
{"data":{"name":"sideB"},"mark":{"type":"text","fontSize":9,"align":"left","baseline":"middle","lineBreak":"\n","lineHeight":9.8},
"encoding":{"text":{"field":"text"},"color":{"field":"sample","type":"nominal","legend":null,"scale":{"domain":["14","13","12","11","10","09","08","06"],"range":["#333333","#9c2a3c","#2f9155","#39427f","#8f9040","#91399a","#2b9090","#9c9c9c"]}}}},
{"data":{"values":[{"t":-1.005,"v":105,"text":"RT:"}]},"mark":{"type":"text","fontSize":10,"fill":"#222","align":"left","baseline":"middle"},"encoding":{"text":{"field":"text"}}},
{"data":{"values":[{"t":-0.5,"v":105,"text":"0.00 - 15.01"}]},"mark":{"type":"text","fontSize":10,"fill":"#2b3a8c","align":"left","baseline":"middle"},"encoding":{"text":{"field":"text"}}},
{"data":{"values":[{"t":-0.6,"v":113.5,"text":"B"}]},"mark":{"type":"text","fontSize":20,"fontWeight":"bold","fill":"#000","baseline":"middle"},"encoding":{"text":{"field":"text"}}}
]
},
{
"encoding":{
"x":{"field":"cv","type":"quantitative","title":"CV","scale":{"domain":[-0.104,1.104],"range":[67.3,700.5],"nice":false,"zero":false},
"axis":{"orient":"bottom","offset":-764,"grid":false,"domainColor":"#555","domainWidth":2.5,"tickColor":"#333","tickSize":4,"labelColor":"#4d4d4d","titleColor":"#111","labelFontSize":14,"titleFontSize":18,"titleFontWeight":"normal","titlePadding":3,"labelPadding":3,"labelFlush":false,"values":[0,0.25,0.5,0.75,1],"format":".2f"}},
"y":{"field":"pct","type":"quantitative","title":"Percent of peaks","scale":{"domain":[-0.048,1.048],"range":[1480,980.7],"nice":false,"zero":false},
"axis":{"orient":"left","offset":-67.3,"grid":false,"domainColor":"#555","domainWidth":1.5,"tickColor":"#333","tickSize":4,"labelColor":"#4d4d4d","titleColor":"#111","labelFontSize":14,"titleFontSize":17.5,"titleFontWeight":"normal","titlePadding":5,"labelPadding":3,"labelFlush":false,"values":[0,0.25,0.5,0.75,1],"format":".2f"}}
},
"layer":[
{"data":{"name":"gridMinor"},"mark":{"type":"rule","stroke":"#efefef","strokeWidth":0.7},"encoding":{"x2":{"field":"cv2"},"y2":{"field":"pct2"}}},
{"data":{"name":"gridMajor"},"mark":{"type":"rule","stroke":"#ebebeb","strokeWidth":1.3},"encoding":{"x2":{"field":"cv2"},"y2":{"field":"pct2"}}},
{"data":{"name":"cvCurve"},"mark":{"type":"line","strokeWidth":1.2},
"encoding":{"color":{"field":"class","type":"nominal","scale":{"domain":["QC"],"range":["#F8766D"]},
"legend":{"orient":"none","legendX":635,"legendY":1421,"title":"class","titleFontSize":17,"titleFontWeight":"normal","titleColor":"#111","titlePadding":15,"labelFontSize":14,"labelColor":"#111","labelOffset":10,"symbolType":"stroke","symbolSize":529,"symbolStrokeWidth":1.6}}}},
{"data":{"name":"thresholds"},"mark":{"type":"rule","stroke":"#111","strokeWidth":1.3,"strokeDash":[7,5]},"encoding":{"x2":{"field":"cv2"},"y2":{"field":"pct2"}}},
{"data":{"name":"frameC"},"mark":{"type":"rule","stroke":"#555","strokeWidth":1.3},"encoding":{"x2":{"field":"cv2"},"y2":{"field":"pct2"}}},
{"data":{"name":"legendPatch"},"mark":{"type":"rect","fill":"#fff"},"encoding":{"x2":{"field":"cv2"},"y2":{"field":"pct2"}}},
{"data":{"name":"headingC"},"mark":{"type":"text","fontSize":21.5,"fill":"#111","align":"left","baseline":"middle"},"encoding":{"text":{"field":"text"}}},
{"data":{"name":"lettersC"},"mark":{"type":"text","fontSize":20,"fontWeight":"bold","fill":"#000","baseline":"middle"},"encoding":{"text":{"field":"text"}}}
]
},
{
"data":{"name":"lipids"},
"encoding":{
"x":{"field":"n","type":"quantitative","title":"Lipid Molecules Number","stack":null,"scale":{"domain":[-6.7,141.7],"range":[70.4,696.4],"nice":false,"zero":false},
"axis":{"orient":"bottom","offset":-35.3,"grid":false,"domainColor":"#111","domainWidth":1.3,"tickColor":"#333","tickSize":3,"labelColor":"#4d4d4d","titleColor":"#111","labelFontSize":12.5,"titleFontSize":15,"titleFontWeight":"normal","titlePadding":2,"labelPadding":3,"labelFlush":false,"values":[0,50,100]}},
"y":{"field":"name","type":"nominal","sort":null,"title":"Lipid Sub Classes","scale":{"range":[1669.6,2208.7],"paddingInner":0.1,"paddingOuter":0.15},
"axis":{"orient":"left","offset":-70.4,"grid":false,"domainColor":"#111","domainWidth":1.3,"tickColor":"#333","tickSize":3,"labelColor":"#4d4d4d","titleColor":"#111","labelFontSize":12,"titleFontSize":15,"titleFontWeight":"normal","titlePadding":4,"labelPadding":2}}
},
"layer":[
{"mark":{"type":"bar","stroke":"#fff","strokeOpacity":0.45,"strokeWidth":0.7},
"encoding":{"color":{"field":"category","type":"nominal",
"scale":{"domain":["Sterol Lipids","Sphingolipids","Saccharolipids","Prenol Lipids","Glycerophospholip-","Glycerolip-","Fatty Acyls"],"range":["#E76BB3","#9A85C0","#00AEE0","#00B38A","#00AE1E","#C99500","#FF6F64"]},
"legend":{"orient":"none","legendX":121,"legendY":1603,"columns":4,"title":"Category","titleOrient":"left","titleFontSize":14,"titleFontWeight":"normal","titleColor":"#111","titlePadding":8,"labelFontSize":12,"labelColor":"#111","labelOffset":8,"symbolType":"square","symbolSize":441,"symbolStrokeWidth":0,"columnPadding":8,"rowPadding":2}}}},
{"mark":{"type":"text","align":"left","baseline":"middle","dx":1.5,"fontSize":8,"fill":"#333"},"encoding":{"text":{"field":"n","type":"quantitative"}}}
]
}
],
"resolve":{"scale":{"x":"independent","y":"independent","color":"independent"},"axis":{"x":"independent","y":"independent"}}
}
